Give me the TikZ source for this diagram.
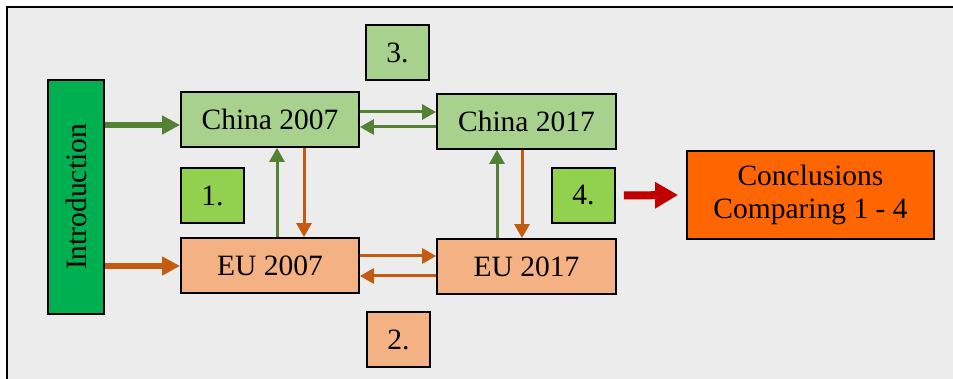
\documentclass[tikz,border=0pt]{standalone}
\usepackage{fontspec}
\setmainfont{Liberation Serif}
\usetikzlibrary{arrows.meta}
\definecolor{bg}{HTML}{ECECEC}
\definecolor{lgreen}{HTML}{A9D18E}
\definecolor{mgreen}{HTML}{92D050}
\definecolor{dgreen}{HTML}{00B050}
\definecolor{lorange}{HTML}{F4B183}
\definecolor{orng}{HTML}{FF6600}
\definecolor{arrg}{HTML}{548235}
\definecolor{arro}{HTML}{C55A11}
\definecolor{arrr}{HTML}{C00000}
\tikzset{
  box/.style={draw=black, line width=1.8pt, inner sep=0pt, align=center, font=\fontsize{29.5}{33}\selectfont},
  thin/.style={line width=3pt, -{Triangle[length=14pt,width=15pt]}},
  thick/.style={line width=5.5pt, -{Triangle[length=18pt,width=18pt]}},
}
\begin{document}
\begin{tikzpicture}[x=1pt,y=-1pt]
\useasboundingbox (0,0) rectangle (953,379);
\fill[bg] (7,7) rectangle (953,379);
\draw[line width=2pt] (7,381) -- (7,7) -- (955,7);
% nodes
\node[box, fill=dgreen, minimum width=56pt, minimum height=234pt] (intro) at (76,197) {};
\node[rotate=90, font=\fontsize{29.5}{33}\selectfont] (introtext) at (intro.center) {Introduction};
\node[box, fill=lgreen, minimum width=178pt, minimum height=55pt] (c07) at (270,119.5) {China 2007};
\node[box, fill=lgreen, minimum width=179pt, minimum height=55pt] (c17) at (526.5,121.5) {China 2017};
\node[box, fill=lorange, minimum width=178pt, minimum height=55pt] (e07) at (270,265.5) {EU 2007};
\node[box, fill=lorange, minimum width=179pt, minimum height=55pt] (e17) at (526.5,266.5) {EU 2017};
\node[box, fill=lgreen, minimum width=63pt, minimum height=55pt] (n3) at (397.5,52.5) {3.};
\node[box, fill=mgreen, minimum width=63pt, minimum height=55pt] (n1) at (212.5,195.5) {1.};
\node[box, fill=lorange, minimum width=63pt, minimum height=55pt] (n2) at (398.5,339.5) {2.};
\node[box, fill=mgreen, minimum width=63pt, minimum height=55pt] (n4) at (583.5,195.5) {4.};
\node[box, fill=orng, minimum width=247pt, minimum height=88pt] (concl) at (810.5,195) {Conclusions\\Comparing 1 - 4};
% arrows
\draw[thick, arrg] (intro.east |- 0,125) -- (c07.west |- 0,125);
\draw[thick, arro] (intro.east |- 0,266) -- (e07.west |- 0,266);
\draw[thin, arrg] (c07.east |- 0,112) -- (c17.west |- 0,112);
\draw[thin, arrg] (c17.west |- 0,127) -- (c07.east |- 0,127);
\draw[thin, arro] (e07.east |- 0,256) -- (e17.west |- 0,256);
\draw[thin, arro] (e17.west |- 0,276) -- (e07.east |- 0,276);
\draw[thin, arrg] (e07.north -| 277,0) -- (c07.south -| 277,0);
\draw[thin, arro] (c07.south -| 304,0) -- (e07.north -| 304,0);
\draw[thin, arrg] (e17.north -| 497,0) -- (c17.south -| 497,0);
\draw[thin, arro] (c17.south -| 522,0) -- (e17.north -| 522,0);
\draw[arrr, line width=8pt, -{Triangle[length=23pt,width=25pt]}] ([xshift=8pt]n4.east) -- ([xshift=-8pt]concl.west);
\end{tikzpicture}
\end{document}
